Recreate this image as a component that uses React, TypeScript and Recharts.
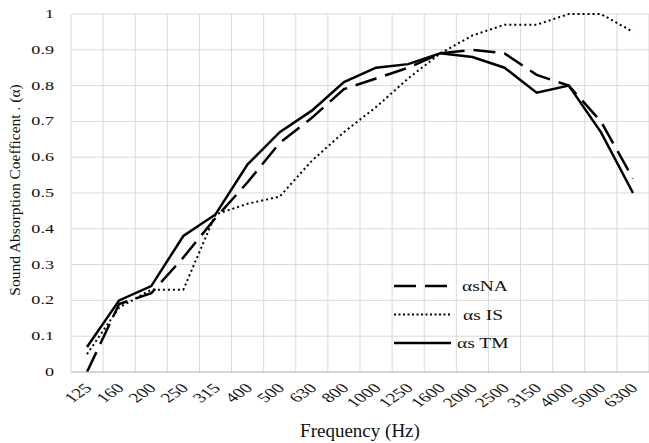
import { LineChart, Line, XAxis, YAxis, CartesianGrid, Legend } from 'recharts';

const freqs = ['125', '160', '200', '250', '315', '400', '500', '630', '800', '1000', '1250', '1600', '2000', '2500', '3150', '4000', '5000', '6300'];
const naValues = [0, 0.19, 0.22, 0.32, 0.43, 0.53, 0.64, 0.71, 0.79, 0.82, 0.85, 0.89, 0.9, 0.89, 0.83, 0.8, 0.7, 0.54];
const isValues = [0.05, 0.18, 0.23, 0.23, 0.44, 0.47, 0.49, 0.59, 0.67, 0.74, 0.82, 0.89, 0.94, 0.97, 0.97, 1.0, 1.0, 0.95];
const tmValues = [0.07, 0.2, 0.24, 0.38, 0.44, 0.58, 0.67, 0.73, 0.81, 0.85, 0.86, 0.89, 0.88, 0.85, 0.78, 0.8, 0.67, 0.5];
const yTicks = [0, 0.1, 0.2, 0.3, 0.4, 0.5, 0.6, 0.7, 0.8, 0.9, 1];

const seriesNames = ['αsNA', 'αs IS', 'αs TM'];
const xTitle = 'Frequency (Hz)';
const yTitle = 'Sound Absorption Coefficent . (α)';

const data = freqs.map((f, i) => ({
  freq: f,
  na: naValues[i],
  is: isValues[i],
  tm: tmValues[i],
}));

const FONT = 'Liberation Serif';
const STRETCH = 1.45;

const YTick = ({ x, y, payload }: any) => (
  <text
    transform={`translate(${x - 9},${y + 4}) scale(${STRETCH},1)`}
    textAnchor="end"
    fontSize={12.5}
    fontFamily={FONT}
    fill="#111"
  >
    {String(payload.value)}
  </text>
);

const XTick = ({ x, y, payload }: any) => (
  <g transform={`translate(${x + 6},${y + 9}) scale(${STRETCH},1) rotate(-45)`}>
    <text textAnchor="end" fontSize={13.5} fontFamily={FONT} fill="#111">
      {payload.value}
    </text>
  </g>
);

const XTitle = ({ viewBox }: any) => (
  <text x={viewBox.x + viewBox.width / 2} y={viewBox.y + 65} textAnchor="middle" fontSize={19} fontFamily={FONT} fill="#111">
    {xTitle}
  </text>
);

const YTitle = ({ viewBox }: any) => (
  <text
    transform={`translate(20,${viewBox.y + viewBox.height / 2 - 3}) rotate(-90)`}
    textAnchor="middle"
    fontSize={15.5}
    fontFamily={FONT}
    fill="#111"
  >
    {yTitle}
  </text>
);

const legendRows = [
  { name: seriesNames[0], dash: '22 9', width: 2.5, textX: 72 },
  { name: seriesNames[1], dash: '2 2.5', width: 1.8, textX: 73 },
  { name: seriesNames[2], dash: undefined, width: 2.5, textX: 67 },
];

const LegendBox = () => (
  <svg width={160} height={90}>
    {legendRows.map((r, i) => (
      <g key={r.name}>
        <line x1={4} x2={61} y1={16 + i * 28.5} y2={16 + i * 28.5} stroke="#000" strokeWidth={r.width} strokeDasharray={r.dash} />
        <text
          transform={`translate(${r.textX},${21 + i * 28.5}) scale(1.3,1)`}
          fontSize={15}
          fontFamily={FONT}
          fill="#111"
        >
          {r.name}
        </text>
      </g>
    ))}
  </svg>
);

const gridX = ({ offset }: any) =>
  Array.from({ length: freqs.length + 1 }, (_, k) => offset.left + (k * offset.width) / freqs.length);

export default function App() {
  return (
    <div style={{ position: 'absolute', left: 0, top: 0, fontFamily: FONT }}>
      <LineChart width={649} height={443} data={data} margin={{ top: 14, right: 0, bottom: 0, left: 0 }}>
        <CartesianGrid stroke="#d9d9d9" verticalCoordinatesGenerator={gridX} />
        <XAxis
          dataKey="freq"
          height={71}
          padding={{ left: 16, right: 16 }}
          interval={0}
          tickLine={false}
          axisLine={{ stroke: '#bfbfbf' }}
          tick={<XTick />}
          label={<XTitle />}
        />
        <YAxis
          width={71}
          domain={[0, 1]}
          ticks={yTicks}
          interval={0}
          tickLine={false}
          axisLine={false}
          tick={<YTick />}
          label={<YTitle />}
        />
        <Legend
          layout="horizontal"
          verticalAlign="middle"
          align="center"
          content={<LegendBox />}
          wrapperStyle={{ left: 390, top: 270, width: 160 }}
        />
        <Line type="linear" dataKey="na" name={seriesNames[0]} stroke="#000" strokeWidth={2.5} strokeDasharray="22 9" dot={false} isAnimationActive={false} />
        <Line type="linear" dataKey="is" name={seriesNames[1]} stroke="#000" strokeWidth={2} strokeDasharray="2 3" dot={false} isAnimationActive={false} />
        <Line type="linear" dataKey="tm" name={seriesNames[2]} stroke="#000" strokeWidth={2.5} dot={false} isAnimationActive={false} />
      </LineChart>
    </div>
  );
}
